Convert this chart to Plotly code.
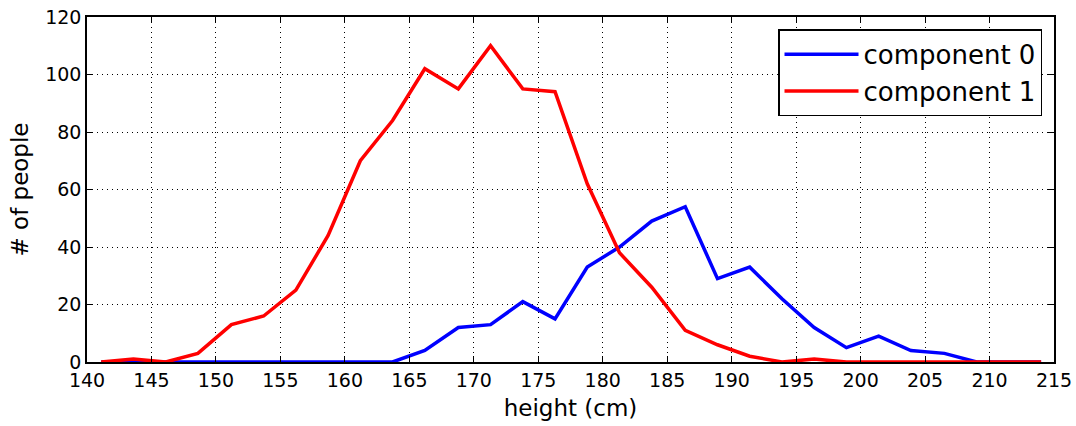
import plotly.graph_objects as go

# Bin centres of the height histogram (cm)
height_cm = [141.1, 143.6, 146.1, 148.6, 151.2, 153.7, 156.2, 158.7, 161.2, 163.7,
             166.2, 168.8, 171.3, 173.8, 176.3, 178.8, 181.3, 183.8, 186.4, 188.9,
             191.4, 193.9, 196.4, 198.9, 201.4, 203.9, 206.5, 209.0, 211.5, 214.0]

# Counts per bin for each mixture component
component_0 = [0, 0, 0, 0, 0, 0, 0, 0, 0, 0,
               4, 12, 13, 21, 15, 33, 40, 49, 54, 29,
               33, 22, 12, 5, 9, 4, 3, 0, 0, 0]
component_1 = [0, 1, 0, 3, 13, 16, 25, 44, 70, 84,
               102, 95, 110, 95, 94, 62, 38, 26, 11, 6,
               2, 0, 1, 0, 0, 0, 0, 0, 0, 0]

x_ticks = [140, 145, 150, 155, 160, 165, 170, 175, 180, 185, 190, 195, 200, 205, 210, 215]
y_ticks = [0, 20, 40, 60, 80, 100, 120]

FONT = "DejaVu Sans"

fig = go.Figure()
fig.add_trace(go.Scatter(x=height_cm, y=component_0, mode="lines", name="component 0",
                         line=dict(color="#0000ff", width=3.5)))
fig.add_trace(go.Scatter(x=height_cm, y=component_1, mode="lines", name="component 1",
                         line=dict(color="#ff0000", width=3.5)))

axis_common = dict(
    showline=True, linecolor="black", linewidth=1.5, mirror="ticks",
    ticks="inside", ticklen=6, tickcolor="black", tickwidth=1,
    showgrid=True, gridcolor="black", gridwidth=1, griddash="1px,4px",
    zeroline=False, automargin=False,
    tickfont=dict(family=FONT, size=19, color="black"),
)

fig.update_xaxes(range=[140, 215], tickvals=x_ticks, ticktext=[str(v) for v in x_ticks],
                 title=dict(text="height (cm)", font=dict(family=FONT, size=23, color="black"),
                            standoff=10),
                 **axis_common)
fig.update_yaxes(range=[0, 120], tickvals=y_ticks, ticktext=[str(v) for v in y_ticks],
                 title=dict(text="# of people", font=dict(family=FONT, size=23, color="black"),
                            standoff=10),
                 **axis_common)

fig.update_layout(
    width=1076, height=426,
    margin=dict(l=87, r=22, t=17, b=64),
    paper_bgcolor="white", plot_bgcolor="white",
    font=dict(family=FONT, color="black"),
    legend=dict(x=0.9876, y=0.964, xanchor="right", yanchor="top",
                bgcolor="white", bordercolor="black", borderwidth=1.5,
                itemwidth=74,
                font=dict(family=FONT, size=26, color="black")),
)

fig.write_html("out.html")
